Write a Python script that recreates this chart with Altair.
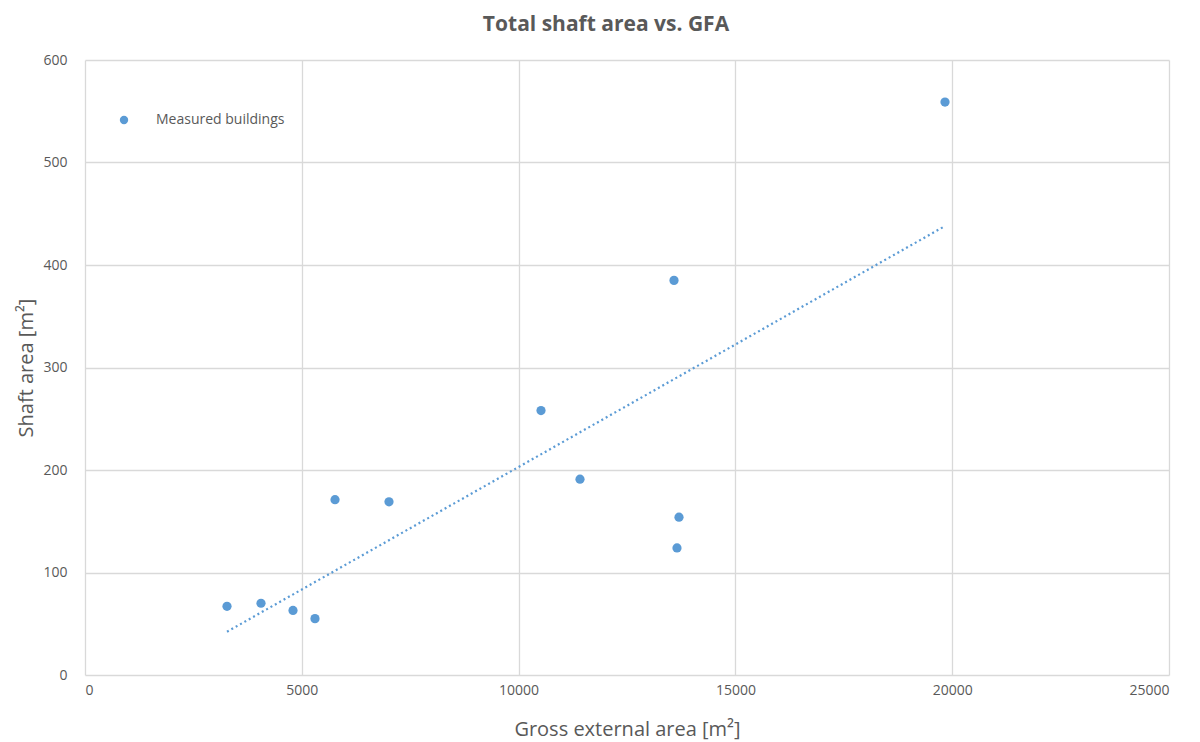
import altair as alt
import pandas as pd

gfa = [3275, 4059, 4797, 5304, 5766, 7011, 10517, 11416, 13584, 13699, 13653, 19834]
shaft = [67, 70, 63, 55, 171, 169, 258, 191, 385, 154, 124, 559]
series = ["Measured buildings"] * len(gfa)

df = pd.DataFrame({"gfa": gfa, "shaft": shaft, "series": series})

FONT = "Open Sans"
GREY = "#595959"
BLUE = "#5B9BD5"

x_enc = alt.X("gfa:Q", scale=alt.Scale(domain=[0, 25000], nice=False),
              axis=alt.Axis(values=[0, 5000, 10000, 15000, 20000, 25000], format="d",
                            title="Gross external area [m²]"))
y_enc = alt.Y("shaft:Q", scale=alt.Scale(domain=[0, 600], nice=False),
              axis=alt.Axis(values=[0, 100, 200, 300, 400, 500, 600],
                            title="Shaft area [m²]"))

points = alt.Chart(df).mark_circle(size=85, opacity=1).encode(
    x=x_enc, y=y_enc,
    color=alt.Color("series:N", scale=alt.Scale(domain=["Measured buildings"], range=[BLUE]),
                    legend=alt.Legend(title=None, orient="none", legendX=32, legendY=53,
                                      symbolSize=70, symbolType="circle", labelFontSize=14,
                                      labelColor=GREY, labelFont=FONT, labelOffset=25)),
)

trend = alt.Chart(df).transform_regression("gfa", "shaft").mark_line(
    color=BLUE, strokeDash=[2, 3], strokeWidth=2.2
).encode(x="gfa:Q", y="shaft:Q")

chart = alt.layer(trend, points).properties(
    width=1084, height=615,
    title=alt.TitleParams("Total shaft area vs. GFA", fontSize=21, font=FONT, fontWeight="bold",
                          color=GREY, anchor="middle", dx=-21, offset=18),
    autosize=alt.AutoSizeParams(type="none"),
    padding={"left": 77, "top": 52, "right": 20, "bottom": 70},
).configure_view(stroke=None).configure_axis(
    grid=True, gridColor="#d9d9d9", gridWidth=1.3, domain=False, ticks=False,
    labelFont=FONT, labelFontSize=14, labelColor=GREY,
    titleFont=FONT, titleFontSize=20, titleColor=GREY, titleFontWeight="normal",
).configure_axisY(labelPadding=18, titlePadding=6).configure_axisX(
    labelPadding=8, titlePadding=22
)

chart.save("out.html", embed_options={"renderer": "svg", "actions": False})
